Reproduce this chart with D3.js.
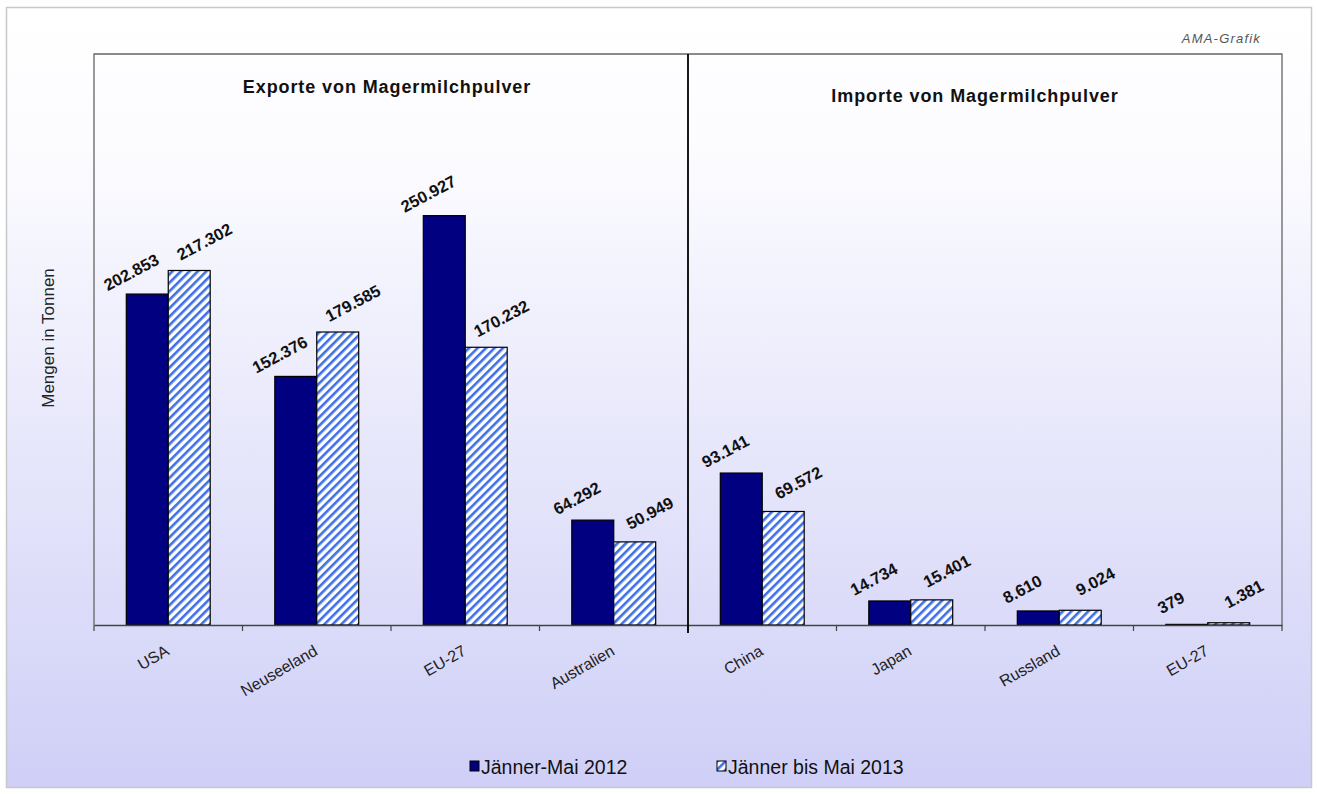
<!DOCTYPE html>
<html><head><meta charset="utf-8">
<script src="https://cdn.jsdelivr.net/npm/d3@7"></script>
<style>body{margin:0;background:#fff;}svg{display:block;font-family:Arial,"Liberation Sans",sans-serif;}</style>
</head><body><svg id="c" width="1318" height="794"></svg>
<script>
const categories = ["USA","Neuseeland","EU-27","Australien","China","Japan","Russland","EU-27"];
const series = ["Jänner-Mai 2012","Jänner bis Mai 2013"];
const values2012 = [202853,152376,250927,64292,93141,14734,8610,379];
const values2013 = [217302,179585,170232,50949,69572,15401,9024,1381];
const panelTitles = ["Exporte von Magermilchpulver","Importe von Magermilchpulver"];
const yLabel = "Mengen in Tonnen";
const credit = "AMA-Grafik";

const svg = d3.select("#c");
const defs = svg.append("defs");
const g1 = defs.append("linearGradient").attr("id","bg").attr("x1",0).attr("y1",0).attr("x2",0).attr("y2",1);
g1.append("stop").attr("offset","0%").attr("stop-color","#ffffff");
g1.append("stop").attr("offset","18%").attr("stop-color","#fcfcff");
g1.append("stop").attr("offset","100%").attr("stop-color","#cfcff7");
const pat = defs.append("pattern").attr("id","hatch").attr("patternUnits","userSpaceOnUse")
  .attr("width",6).attr("height",6).attr("patternTransform","rotate(45)");
pat.append("rect").attr("width",6).attr("height",6).attr("fill","#ffffff");
pat.append("rect").attr("x",0).attr("width",2.6).attr("height",6).attr("fill","#3f6fe6");

svg.append("rect").attr("x",6.5).attr("y",7.5).attr("width",1305).attr("height",780)
  .attr("fill","url(#bg)").attr("stroke","#c8c8c8").attr("stroke-width",1.5);

const L=94, R=1282, T=54, B=625;
const x = d3.scaleBand().domain(d3.range(categories.length)).range([L,R]).paddingInner(0).paddingOuter(0);
const xs = d3.scaleBand().domain([0,1]).range([0, x.bandwidth()]).paddingInner(0).paddingOuter(0.77);
const y = d3.scaleLinear().domain([0,350000]).range([B,T]);
const fmt = d3.formatLocale({decimal:",",thousands:".",grouping:[3],currency:["","€"]}).format(",d");

// plot frame
svg.append("path").attr("d",`M${L},${B}V${T}H${R}V${B}`).attr("fill","none").attr("stroke","#666").attr("stroke-width",1.3);

const data = categories.map((c,i)=>({c,i,v:[values2012[i],values2013[i]]}));
const grp = svg.append("g").selectAll("g").data(data).join("g").attr("transform",d=>`translate(${x(d.i)},0)`);
grp.selectAll("rect").data(d=>d.v.map((v,k)=>({v,k}))).join("rect")
  .attr("x",d=>xs(d.k)).attr("width",xs.bandwidth())
  .attr("y",d=>y(d.v)).attr("height",d=>y(0)-y(d.v))
  .attr("fill",d=>d.k===0?"#000080":"url(#hatch)")
  .attr("stroke","#000").attr("stroke-width",1.2);
grp.selectAll("text.val").data(d=>d.v.map((v,k)=>({v,k}))).join("text").attr("class","val")
  .attr("transform",d=>`translate(${xs(d.k)+xs.bandwidth()/2+(d.k===0?-16:15)},${y(d.v)-(d.k===0?22:29)}) rotate(-28)`)
  .attr("text-anchor","middle").attr("dominant-baseline","central").attr("font-weight","bold").attr("font-size",16.5).attr("fill","#111")
  .text(d=>fmt(d.v));

// x axis
const xAxis = d3.axisBottom(x).tickSize(0).tickFormat(i=>categories[i]);
const ax = svg.append("g").attr("transform",`translate(0,${B})`).call(xAxis);
ax.select(".domain").attr("stroke","#444").attr("stroke-width",1.3);
ax.selectAll(".tick text").attr("font-size",16).attr("fill","#222").attr("font-family","Arial, 'Liberation Sans', sans-serif")
  .attr("text-anchor","end").attr("dy",0).attr("y",0)
  .attr("transform","translate(2,29) rotate(-30)");
svg.append("g").selectAll("line").data(d3.range(categories.length+1)).join("line")
  .attr("x1",i=>L+i*x.bandwidth()).attr("x2",i=>L+i*x.bandwidth())
  .attr("y1",B).attr("y2",B+6).attr("stroke","#444").attr("stroke-width",1.2);

// divider
const divX = x(4);
svg.append("line").attr("x1",divX).attr("x2",divX).attr("y1",T).attr("y2",B+8).attr("stroke","#000").attr("stroke-width",1.8);

// titles
svg.append("text").attr("x",387).attr("y",93).attr("text-anchor","middle").attr("font-weight","bold").attr("font-size",18).attr("letter-spacing",0.9).attr("fill","#111").text(panelTitles[0]);
svg.append("text").attr("x",975).attr("y",102).attr("text-anchor","middle").attr("font-weight","bold").attr("font-size",18).attr("letter-spacing",0.9).attr("fill","#111").text(panelTitles[1]);

svg.append("text").attr("transform","translate(54,338) rotate(-90)").attr("text-anchor","middle").attr("font-size",17).attr("fill","#222").text(yLabel);
svg.append("text").attr("x",1261).attr("y",43).attr("text-anchor","end").attr("font-style","italic").attr("font-size",13).attr("letter-spacing",1.2).attr("fill","#555").text(credit);

// legend
const leg = svg.append("g").selectAll("g").data(series).join("g").attr("transform",(d,i)=>`translate(${i===0?470:717},768)`);
leg.append("rect").attr("x",0).attr("y",-7).attr("width",9).attr("height",10)
  .attr("fill",(d,i)=>i===0?"#000080":"url(#hatch)").attr("stroke","#000").attr("stroke-width",1);
leg.append("text").attr("x",11).attr("y",6).attr("font-size",19.5).attr("fill","#111").text(d=>d);
</script></body></html>
